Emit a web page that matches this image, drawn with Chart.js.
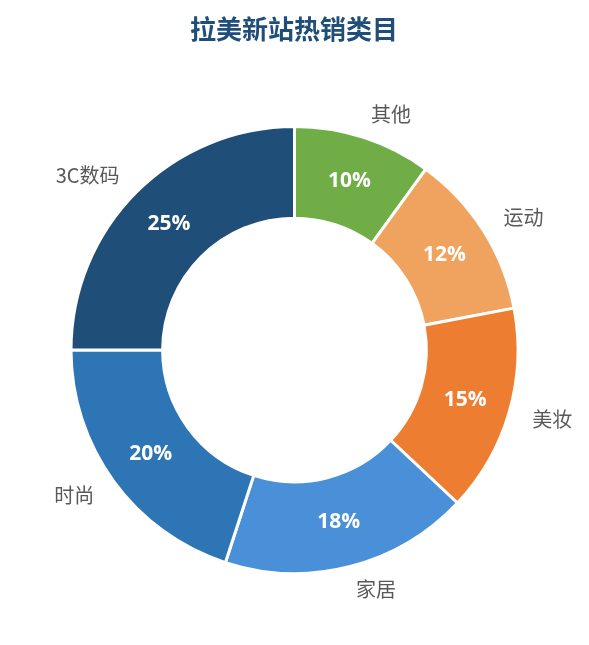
<!DOCTYPE html>
<html>
<head>
<meta charset="utf-8">
<script src="https://cdn.jsdelivr.net/npm/chart.js@4"></script>
<style>
html,body{margin:0;padding:0;background:#fff;}
#wrap{width:589px;height:645px;position:relative;}
</style>
</head>
<body>
<div id="wrap"><canvas id="pie"></canvas></div>
<script>
const categories=['其他','运动','美妆','家居','时尚','3C数码'];
const shares=[10,12,15,18,20,25];
const colors=['#70AD47','#F0A35E','#ED7D31','#4A90D9','#2E75B6','#1F4E79'];
const title='拉美新站热销类目';

const cjk="'Noto Sans CJK SC','Microsoft YaHei',sans-serif";

// title + outside names + inside percents
const labelPlugin={
id:'labels',
afterDatasetsDraw(chart){
const ctx=chart.ctx;
const meta=chart.getDatasetMeta(0);
ctx.save();
ctx.fillStyle='#1F4E79';
ctx.font='bold 26px '+cjk;
ctx.textAlign='center';
ctx.textBaseline='middle';
ctx.fillText(title,294,29);
meta.data.forEach((arc,i)=>{
const p=arc.getProps(['x','y','startAngle','endAngle','innerRadius','outerRadius'],true);
const mid=(p.startAngle+p.endAngle)/2;
const cos=Math.cos(mid),sin=Math.sin(mid);
const r1=(p.innerRadius+p.outerRadius)/2;
ctx.fillStyle='#fff';
ctx.font="bold 21px 'Open Sans',"+cjk;
ctx.textAlign='center';
ctx.fillText(shares[i]+'%',p.x+cos*r1,p.y+sin*r1);
const r2=p.outerRadius+24;
const lx=p.x+cos*r2,ly=p.y+sin*r2;
ctx.fillStyle='#595959';
ctx.font='20px '+cjk;
ctx.textAlign=lx>=p.x?'left':'right';
ctx.fillText(categories[i],lx,ly);
});
ctx.restore();
}
};

new Chart(document.getElementById('pie'),{
type:'doughnut',
data:{
labels:categories,
datasets:[{
data:shares,
backgroundColor:colors,
borderColor:'#fff',
borderWidth:3
}]
},
options:{
responsive:true,
maintainAspectRatio:false,
animation:false,
cutout:'59%',
layout:{padding:{top:125,bottom:70,left:20,right:20}},
plugins:{
legend:{display:false},
tooltip:{enabled:false}
}
},
plugins:[labelPlugin]
});
</script>
</body>
</html>
